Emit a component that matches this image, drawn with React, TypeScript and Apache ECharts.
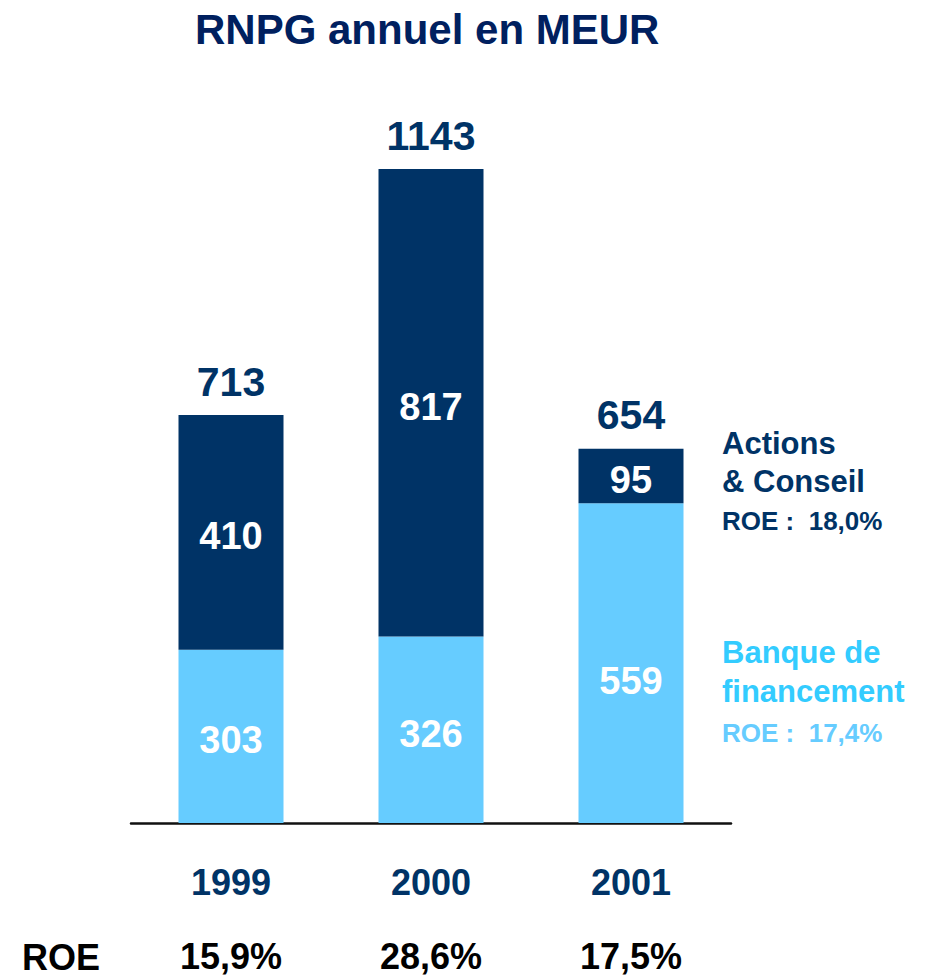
import React, { useEffect, useRef } from "react";
import * as echarts from "echarts";

const years = ["1999", "2000", "2001"];
const banqueValues = [303, 326, 559];
const actionsValues = [410, 817, 95];
const totalValues = [713, 1143, 654];
const roeByYear = ["15,9%", "28,6%", "17,5%"];
const titleText = "RNPG annuel en MEUR";
const actionsLegend = ["Actions", "& Conseil"];
const actionsRoe = "ROE :\u00a0 18,0%";
const banqueLegend = ["Banque de", "financement"];
const banqueRoe = "ROE :\u00a0 17,4%";
const roeRowLabel = "ROE";

const FONT = "'Liberation Sans', Arial, sans-serif";
const DARK = "#003366";
const LIGHT = "#66CCFF";

export default function App() {
  const ref = useRef<HTMLDivElement>(null);
  useEffect(() => {
    if (!ref.current) return;
    const chart = echarts.init(ref.current, null, { renderer: "svg" });
    const bold = { fontFamily: FONT, fontWeight: "bold" as const };
    chart.setOption({
      animation: false,
      backgroundColor: "#ffffff",
      title: {
        text: titleText,
        left: 190,
        top: 3,
        textStyle: { ...bold, fontSize: 42, color: "#00205f" },
      },
      grid: { left: 131, top: 169, width: 600, height: 654 },
      xAxis: [
        {
          type: "category",
          data: years,
          position: "bottom",
          axisLine: { show: true, lineStyle: { color: "#111111", width: 2.5 } },
          axisTick: { show: false },
          axisLabel: { ...bold, margin: 41, fontSize: 36, color: DARK },
        },
        {
          type: "category",
          data: roeByYear,
          position: "bottom",
          offset: 75,
          axisLine: { show: false },
          axisTick: { show: false },
          axisLabel: { ...bold, margin: 40, fontSize: 36, color: "#000000" },
        },
      ],
      yAxis: { type: "value", min: 0, max: 1143, show: false, splitLine: { show: false } },
      series: [
        {
          name: "Banque de financement",
          type: "bar",
          stack: "rnpg",
          barWidth: 105,
          itemStyle: { color: LIGHT },
          label: { show: true, position: "inside", offset: [0, 4], color: "#ffffff", ...bold, fontSize: 38 },
          data: banqueValues.map((v, i) => (i === 2 ? { value: v, label: { offset: [0, 18] } } : v)),
        },
        {
          name: "Actions & Conseil",
          type: "bar",
          stack: "rnpg",
          barWidth: 105,
          itemStyle: { color: DARK },
          label: { show: true, position: "inside", offset: [0, 4], color: "#ffffff", ...bold, fontSize: 38 },
          data: actionsValues,
        },
        {
          name: "Total",
          type: "bar",
          barWidth: 105,
          barGap: "-100%",
          silent: true,
          z: 0,
          itemStyle: { color: "rgba(0,0,0,0)" },
          label: { show: true, position: "top", distance: 13, color: DARK, ...bold, fontSize: 41 },
          data: totalValues,
        },
      ],
      graphic: [
        { type: "text", left: 22, top: 939, style: { text: roeRowLabel, fill: "#000000", font: `bold 36px ${FONT}` } },
        { type: "text", x: 722, y: 443, style: { text: actionsLegend[0], fill: DARK, font: `bold 31px ${FONT}`, verticalAlign: "middle" } },
        { type: "text", x: 722, y: 481, style: { text: actionsLegend[1], fill: DARK, font: `bold 31px ${FONT}`, verticalAlign: "middle" } },
        { type: "text", x: 722, y: 521, style: { text: actionsRoe, fill: DARK, font: `bold 26px ${FONT}`, verticalAlign: "middle" } },
        { type: "text", x: 722, y: 652, style: { text: banqueLegend[0], fill: "#33CCFF", font: `bold 31px ${FONT}`, verticalAlign: "middle" } },
        { type: "text", x: 722, y: 691, style: { text: banqueLegend[1], fill: "#33CCFF", font: `bold 31px ${FONT}`, verticalAlign: "middle" } },
        { type: "text", x: 722, y: 733, style: { text: banqueRoe, fill: LIGHT, font: `bold 26px ${FONT}`, verticalAlign: "middle" } },
      ],
    });
    return () => chart.dispose();
  }, []);
  return <div ref={ref} style={{ position: "absolute", left: 0, top: 0, width: 926, height: 979 }} />;
}
